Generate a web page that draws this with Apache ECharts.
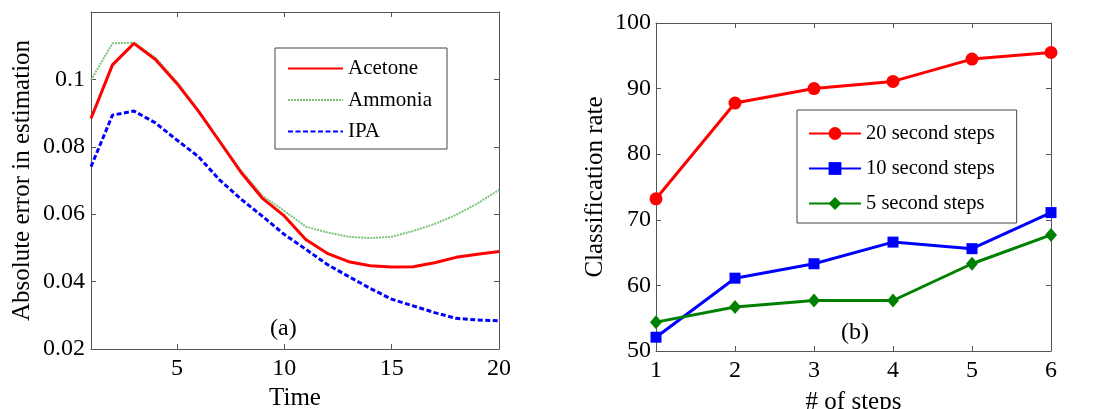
<!DOCTYPE html>
<html><head><meta charset="utf-8">
<script src="https://cdn.jsdelivr.net/npm/echarts@6/dist/echarts.min.js"></script>
<style>html,body{margin:0;padding:0;background:#fff}#c{width:1093px;height:409px}</style>
</head><body><div id="c"></div>
<script>
// ---- data (a) ----
const timeSteps = [1,2,3,4,5,6,7,8,9,10,11,12,13,14,15,16,17,18,19,20];
const acetone = [0.0884,0.1043,0.1107,0.1059,0.0988,0.0906,0.0815,0.0723,0.0646,0.0595,0.0525,0.0484,0.0459,0.0447,0.0443,0.0444,0.0456,0.0472,0.0481,0.0489];
const ammonia = [0.0998,0.1107,0.1109,0.1065,0.0993,0.0909,0.0817,0.0729,0.0654,0.0610,0.0563,0.0546,0.0533,0.0529,0.0533,0.0550,0.0571,0.0598,0.0632,0.0672];
const ipa     = [0.0741,0.0894,0.0906,0.0871,0.0820,0.0771,0.0701,0.0644,0.0593,0.0540,0.0496,0.0451,0.0415,0.0380,0.0348,0.0328,0.0308,0.0291,0.0286,0.0284];
const timeTicks = [5,10,15,20];
// ---- data (b) ----
const steps = [1,2,3,4,5,6];
const rate20 = [73.2,87.8,90.0,91.1,94.5,95.5];
const rate10 = [52.1,61.1,63.3,66.6,65.6,71.1];
const rate5  = [54.4,56.7,57.7,57.7,63.3,67.7];

const FONT = "'Liberation Serif','Times New Roman',serif";
const AXC = '#555';
const pairs = (xs, ys) => xs.map((x, i) => [x, ys[i]]);

function axisBase(extra) {
  return Object.assign({
    axisLine: {show: true, onZero: false, lineStyle: {color: AXC, width: 1}},
    axisTick: {show: true, inside: true, length: 5, lineStyle: {color: AXC}},
    splitLine: {show: false},
    axisLabel: {color: '#000', fontFamily: FONT, fontSize: 24}
  }, extra);
}

const chart = echarts.init(document.getElementById('c'), null, {renderer: 'canvas'});
const option = {
  backgroundColor: '#fff',
  animation: false,
  grid: [
    {left: 91, right: 594, top: 12, bottom: 60, outerBoundsMode: 'none'},
    {left: 656, right: 42, top: 23, bottom: 58, outerBoundsMode: 'none'}
  ],
  xAxis: [
    axisBase({gridIndex: 0, type: 'value', min: 1, max: 20, name: 'Time', nameLocation: 'middle', nameGap: 37,
      nameTextStyle: {color: '#000', fontFamily: FONT, fontSize: 25},
      axisTick: {show: true, inside: true, length: 5, lineStyle: {color: AXC}, customValues: timeTicks},
      axisLabel: {color: '#000', fontFamily: FONT, fontSize: 24, margin: 8, customValues: timeTicks}}),
    axisBase({gridIndex: 0, type: 'value', min: 1, max: 20, position: 'top',
      axisTick: {show: true, inside: true, length: 5, lineStyle: {color: AXC}, customValues: timeTicks},
      axisLabel: {show: false}}),
    axisBase({gridIndex: 1, type: 'value', min: 1, max: 6, interval: 1, name: '# of steps', nameLocation: 'middle', nameGap: 39,
      nameTextStyle: {color: '#000', fontFamily: FONT, fontSize: 25},
      axisLabel: {color: '#000', fontFamily: FONT, fontSize: 24, margin: 8}}),
    axisBase({gridIndex: 1, type: 'value', min: 1, max: 6, interval: 1, position: 'top', axisLabel: {show: false}})
  ],
  yAxis: [
    axisBase({gridIndex: 0, type: 'value', min: 0.02, max: 0.12, interval: 0.02, name: 'Absolute error in estimation',
      nameLocation: 'middle', nameGap: 56, nameTextStyle: {color: '#000', fontFamily: FONT, fontSize: 25},
      axisLabel: {color: '#000', fontFamily: FONT, fontSize: 24, margin: 6, showMaxLabel: false}}),
    axisBase({gridIndex: 0, type: 'value', min: 0.02, max: 0.12, interval: 0.02, position: 'right', axisLabel: {show: false}}),
    axisBase({gridIndex: 1, type: 'value', min: 50, max: 100, interval: 10, name: 'Classification rate',
      nameLocation: 'middle', nameGap: 48, nameTextStyle: {color: '#000', fontFamily: FONT, fontSize: 25},
      axisLabel: {color: '#000', fontFamily: FONT, fontSize: 24, margin: 5}}),
    axisBase({gridIndex: 1, type: 'value', min: 50, max: 100, interval: 10, position: 'right', axisLabel: {show: false}})
  ],
  legend: [
    {
      data: ['Acetone', 'Ammonia', 'IPA'],
      orient: 'vertical', left: 275, top: 48,
      itemWidth: 55, itemHeight: 14, itemGap: 10.5,
      padding: [10, 15, 7, 12],
      borderColor: '#444', borderWidth: 1, backgroundColor: '#fff',
      itemStyle: {opacity: 0},
      textStyle: {color: '#000', fontFamily: FONT, fontSize: 21}
    },
    {
      data: ['20 second steps', '10 second steps', '5 second steps'],
      orient: 'vertical', left: 797, top: 110,
      itemWidth: 52, itemHeight: 16, itemGap: 14,
      padding: [13, 22, 9, 11],
      borderColor: '#444', borderWidth: 1, backgroundColor: '#fff',
      textStyle: {color: '#000', fontFamily: FONT, fontSize: 20.5}
    }
  ],
  graphic: [
    {type: 'text', left: 270, top: 317, style: {text: '(a)', font: '24px ' + FONT, fill: '#000'}},
    {type: 'text', left: 841, top: 321, style: {text: '(b)', font: '24px ' + FONT, fill: '#000'}}
  ],
  series: [
    {name: 'Ammonia', type: 'line', xAxisIndex: 0, yAxisIndex: 0, data: pairs(timeSteps, ammonia), symbol: 'none', z: 2,
      lineStyle: {color: '#7cc27c', width: 2, type: [2, 1]}, itemStyle: {color: '#7cc27c'}},
    {name: 'IPA', type: 'line', xAxisIndex: 0, yAxisIndex: 0, data: pairs(timeSteps, ipa), symbol: 'none', z: 3,
      lineStyle: {color: '#0000ff', width: 3, type: [5, 2.5]}, itemStyle: {color: '#0000ff'}},
    {name: 'Acetone', type: 'line', xAxisIndex: 0, yAxisIndex: 0, data: pairs(timeSteps, acetone), symbol: 'none', z: 4,
      lineStyle: {color: '#ff0000', width: 3}, itemStyle: {color: '#ff0000'}},
    {name: '20 second steps', type: 'line', xAxisIndex: 2, yAxisIndex: 2, data: pairs(steps, rate20),
      symbol: 'circle', symbolSize: 13, lineStyle: {color: '#ff0000', width: 3}, itemStyle: {color: '#ff0000'}},
    {name: '10 second steps', type: 'line', xAxisIndex: 2, yAxisIndex: 2, data: pairs(steps, rate10),
      symbol: 'rect', symbolSize: 11, lineStyle: {color: '#0000ff', width: 3}, itemStyle: {color: '#0000ff'}},
    {name: '5 second steps', type: 'line', xAxisIndex: 2, yAxisIndex: 2, data: pairs(steps, rate5),
      symbol: 'diamond', symbolSize: [12, 14], lineStyle: {color: '#008000', width: 3}, itemStyle: {color: '#008000'}}
  ]
};
chart.setOption(option);
</script>
</body></html>
